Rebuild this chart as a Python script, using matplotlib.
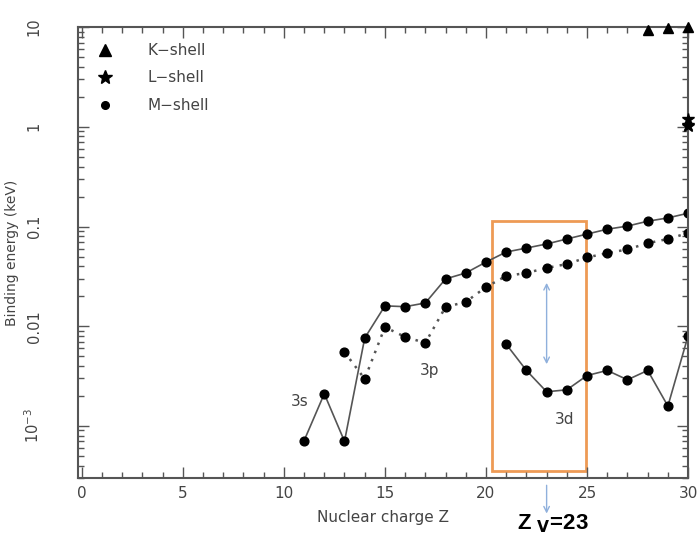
import matplotlib
matplotlib.use("Agg")
import matplotlib.pyplot as plt
import numpy as np
from matplotlib.patches import Rectangle

# M-shell data
z_3s = [11, 12, 13, 14, 15, 16, 17, 18, 19, 20, 21, 22, 23, 24, 25, 26, 27, 28, 29, 30]
e_3s = [7.1e-4, 2.1e-3, 7.0e-4, 7.6e-3, 0.016, 0.0157, 0.0171, 0.0298, 0.0342, 0.044,
        0.0555, 0.0608, 0.0668, 0.075, 0.084, 0.094, 0.101, 0.113, 0.122, 0.136]
z_3p = [13, 14, 15, 16, 17, 18, 19, 20, 21, 22, 23, 24, 25, 26, 27, 28, 29, 30]
e_3p = [5.5e-3, 2.96e-3, 9.8e-3, 7.8e-3, 6.8e-3, 0.0156, 0.0175, 0.0247, 0.0319, 0.0342,
        0.0384, 0.042, 0.049, 0.054, 0.059, 0.068, 0.075, 0.086]
z_3d = [21, 22, 23, 24, 25, 26, 27, 28, 29, 30]
e_3d = [6.6e-3, 3.6e-3, 2.2e-3, 2.3e-3, 3.2e-3, 3.6e-3, 2.9e-3, 3.6e-3, 1.58e-3, 8.0e-3]
z_K = [28, 29, 30]
e_K = [9.4, 9.7, 10.0]
z_L = [30, 30, 30]
e_L = [1.2, 1.05, 1.02]

yticks = [1e-3, 0.01, 0.1, 1, 10]
ytick_labels = [r"$10^{-3}$", "0.01", "0.1", "1", "10"]
legend_names = ["K\u2212shell", "L\u2212shell", "M\u2212shell"]

grey = "#555555"
txt = "#444444"
orange = "#ee9a55"
blue = "#8fb0dc"

fig = plt.figure(figsize=(7, 5.43), dpi=100)
ax = fig.add_axes([0.111, 0.1197, 0.872, 0.8303])

ax.plot(z_3s, e_3s, "-", color=grey, lw=1.2, marker="o", ms=6.3, mfc="black", mec="black")
ax.plot(z_3p, e_3p, ls=(0, (1, 2.5)), color=grey, lw=1.8, marker="o", ms=6.3, mfc="black", mec="black")
ax.plot(z_3d, e_3d, "-", color=grey, lw=1.2, marker="o", ms=6.3, mfc="black", mec="black")
ax.plot(z_K, e_K, "^", color="black", ms=7.5, ls="none", clip_on=False, zorder=5)
ax.plot(z_L, e_L, "*", color="black", ms=9, ls="none", clip_on=False, zorder=5)

ax.set_yscale("log")
ax.set_xlim(-0.2, 30)
ax.set_ylim(3e-4, 10)

# box around the 3d region
ax.add_patch(Rectangle((20.3, 3.5e-4), 4.65, 0.113 - 3.5e-4, fill=False,
                       edgecolor=orange, lw=2, zorder=1))

# blue double arrow at Z=23
ax.annotate("", xy=(23, 3.9e-3), xytext=(23, 0.029),
            arrowprops=dict(arrowstyle="<->", color=blue, lw=1.0))

ax.text(10.8, 1.74e-3, "3s", fontsize=11, color=txt, ha="center", va="center")
ax.text(17.2, 3.6e-3, "3p", fontsize=11, color=txt, ha="center", va="center")
ax.text(23.9, 1.15e-3, "3d", fontsize=11, color=txt, ha="center", va="center")

# legend drawn by hand
leg_y = [0.949, 0.889, 0.827]
leg_m = ["^", "*", "o"]
leg_s = [8, 10, 5.5]
for yy, mk, sz, name in zip(leg_y, leg_m, leg_s, legend_names):
    ax.plot([0.044], [yy], mk, color="black", ms=sz, transform=ax.transAxes)
    ax.text(0.115, yy, name, transform=ax.transAxes, fontsize=11, color=txt, va="center")

# ticks
ax.set_xticks(np.arange(0, 31, 5))
ax.set_xticks(np.arange(0, 31, 1), minor=True)
ax.set_yticks(yticks)
ax.set_yticklabels(ytick_labels, rotation=90, va="center")
ax.tick_params(which="both", direction="in", top=True, right=True, colors=grey,
               labelcolor=txt, labelsize=11)
ax.tick_params(axis="y", labelsize=10.5)
ax.tick_params(which="major", length=8, width=1)
ax.tick_params(which="minor", length=4, width=1)
ax.tick_params(axis="y", pad=26)
ax.tick_params(axis="x", pad=6)
for sp in ax.spines.values():
    sp.set_color(grey)
    sp.set_linewidth(1.5)

ax.set_xlabel("Nuclear charge Z", fontsize=11, color=txt, labelpad=6)
ax.set_ylabel("Binding energy (keV)", fontsize=10, color=txt)
ax.yaxis.set_label_coords(-0.096, 0.5)

# arrow and Z_V label below the axis
ax.annotate("", xy=(23, -0.085), xytext=(23, -0.01), xycoords=("data", "axes fraction"),
            textcoords=("data", "axes fraction"),
            arrowprops=dict(arrowstyle="->", color=blue, lw=1.0), annotation_clip=False)
fig.text(0.79, 0.035, r"Z $_{\mathbf{V}}$=23", fontsize=16, fontweight="bold",
         family="Liberation Sans", ha="center", va="center")

fig.savefig("out.png", dpi=100)
